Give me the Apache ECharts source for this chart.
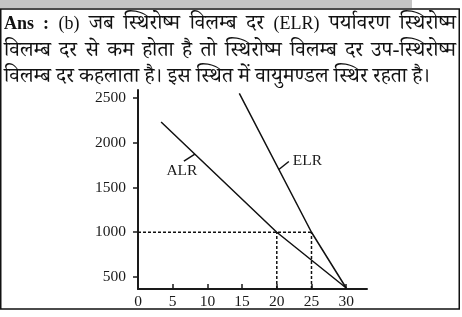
<!DOCTYPE html>
<html>
<head>
<meta charset="utf-8">
<script src="https://cdn.jsdelivr.net/npm/echarts@6/dist/echarts.min.js"></script>
<style>
  html, body { margin:0; padding:0; background:#fff; }
  #wrap { position:relative; width:462px; height:317px; overflow:hidden; }
  #chart { position:absolute; left:0; top:0; width:462px; height:317px; }
  #txt { position:absolute; left:4px; top:9px; width:452px; font-family:"Liberation Serif","Noto Serif Devanagari","Noto Sans Devanagari","Lohit Devanagari",serif; font-size:21px; line-height:26.5px; color:#111; }
  .j { text-align:justify; text-align-last:justify; white-space:nowrap; height:26.5px; }
  .l { text-align:left; white-space:nowrap; height:26.5px; }
  .lat { font-size:18px; }
  b { font-weight:bold; }
</style>
</head>
<body>
<div id="wrap">
  <div id="chart"></div>
  <div id="txt">
    <div class="j"><b class="lat">Ans :</b> <span class="lat">(b)</span> जब स्थिरोष्म विलम्ब दर <span class="lat">(ELR)</span> पर्यावरण स्थिरोष्म</div>
    <div class="j">विलम्ब दर से कम होता है तो स्थिरोष्म विलम्ब दर उप-स्थिरोष्म</div>
    <div class="l">विलम्ब दर कहलाता है। इस स्थित में वायुमण्डल स्थिर रहता है।</div>
  </div>
</div>
<script>
// ---- data ----
const xTicks = [0, 5, 10, 15, 20, 25, 30];
const yTicks = [500, 1000, 1500, 2000, 2500];
const alrData = [[3.33, 2232], [20, 1000], [30, 377]];
const elrData = [[14.6, 2552], [25, 1000], [30, 377]];
const guideLevel = 1000;
const guideX = [20, 25];
const alrLabelAt = [8.2, 1872];   // point on ALR where the label's leader touches
const elrLabelAt = [20.3, 1701];  // point on ELR where the label's leader touches

const chart = echarts.init(document.getElementById('chart'), null, {renderer:'canvas'});
const yMin = 366, yMax = 2589, xMin = 0, xMax = 33;
const axisFont = {fontFamily:'Liberation Serif', fontSize:15.5, color:'#1a1a1a'};

const dashStyle = {color:'#111', width:1.5, type:[3,2]};
const guideSeries = [
  {data:[[xMin, guideLevel],[guideX[1], guideLevel]]},
  {data:[[guideX[0], yMin],[guideX[0], guideLevel]]},
  {data:[[guideX[1], yMin],[guideX[1], guideLevel]]}
].map(s => ({type:'line', data:s.data, symbol:'none', lineStyle:dashStyle, silent:true, z:2, animation:false}));

chart.setOption({
  animation:false,
  grid:{left:138, top:90, width:229, height:199, containLabel:false},
  xAxis:{
    type:'value', min:xMin, max:xMax,
    axisLine:{show:true, lineStyle:{color:'#1a1a1a', width:2}},
    axisTick:{show:true, inside:true, length:5, customValues:xTicks.slice(1), lineStyle:{color:'#1a1a1a', width:1.5}},
    axisLabel:{show:true, customValues:xTicks, margin:5, formatter:v => String(v), ...axisFont},
    splitLine:{show:false}
  },
  yAxis:{
    type:'value', min:yMin, max:yMax,
    axisLine:{show:true, lineStyle:{color:'#1a1a1a', width:2}},
    axisTick:{show:true, inside:false, length:5, customValues:yTicks, lineStyle:{color:'#1a1a1a', width:1.5}},
    axisLabel:{show:true, customValues:yTicks, margin:12, formatter:v => String(v), ...axisFont},
    splitLine:{show:false}
  },
  series:[
    ...guideSeries,
    {name:'ALR', type:'line', data:alrData, symbol:'none', lineStyle:{color:'#111', width:1.5}, z:3},
    {name:'ELR', type:'line', data:elrData, symbol:'none', lineStyle:{color:'#111', width:1.5}, z:3}
  ]
});

const pA = chart.convertToPixel({gridIndex:0}, alrLabelAt);
const pE = chart.convertToPixel({gridIndex:0}, elrLabelAt);
chart.setOption({
  graphic:[
    {type:'rect', shape:{x:0, y:0, width:412, height:8}, style:{fill:'#c4c4c4'}, z:0},
    {type:'rect', shape:{x:0.75, y:9, width:458.5, height:300}, style:{fill:'none', stroke:'#111', lineWidth:1.5}, z:10},
    {type:'line', shape:{x1:pA[0], y1:pA[1], x2:pA[0]-11, y2:pA[1]+7}, style:{stroke:'#111', lineWidth:1.5}},
    {type:'text', x:pA[0]-13, y:pA[1]+17, style:{text:'ALR', fontFamily:'Liberation Serif', fontSize:15.5, fill:'#1a1a1a', align:'center', verticalAlign:'middle'}},
    {type:'line', shape:{x1:pE[0], y1:pE[1], x2:pE[0]+10, y2:pE[1]-8}, style:{stroke:'#111', lineWidth:1.5}},
    {type:'text', x:pE[0]+14, y:pE[1]-9, style:{text:'ELR', fontFamily:'Liberation Serif', fontSize:15.5, fill:'#1a1a1a', align:'left', verticalAlign:'middle'}}
  ]
});
</script>
</body>
</html>
